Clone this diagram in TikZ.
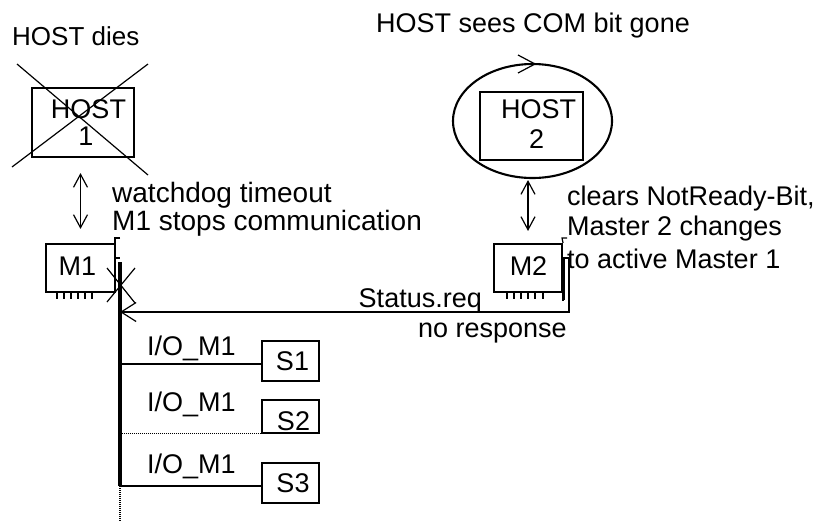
\documentclass[tikz,border=0pt]{standalone}
\usepackage{fontspec}
\setmainfont{Liberation Sans}
\usetikzlibrary{arrows.meta,shapes.geometric}
\begin{document}
\begin{tikzpicture}[x=1pt,y=-1pt,
  box/.style={draw, line width=2.1pt, inner sep=0pt},
  lbl/.style={inner sep=0pt, font=\fontsize{27}{30}\selectfont},
  big/.style={font=\fontsize{28}{31}\selectfont},
  ltxt/.style={lbl, anchor=base west},
  ctxt/.style={lbl, anchor=base},
  thinline/.style={line width=1.2pt},
  dbl/.style={line width=1.2pt, {Straight Barb[length=13pt,width=14pt]}-{Straight Barb[length=13pt,width=14pt]}},
  req/.style={line width=1.2pt, -{Straight Barb[length=15pt,width=19pt]}},
  bus/.style={line width=3.2pt},
  dotline/.style={line width=1.2pt, dash pattern=on 1.2pt off 0.8pt}]

\useasboundingbox (0,0) rectangle (826,523);
\fill[white] (0,0) rectangle (826,523);

% ---------- left side: failed host and master 1 ----------
\node[ltxt, font=\fontsize{26}{30}\selectfont] (dies) at (12,45) {HOST dies};
\node[box, minimum width=102pt, minimum height=69pt] (host1) at (83,122.5) {};
\node[ctxt] (host1a) at (88.5,118) {HOST};
\node[ctxt] (host1b) at (86,145) {1};
% crossed out
\coordinate (xa1) at (17,64);  \coordinate (xa2) at (148,175);
\coordinate (xb1) at (148,64); \coordinate (xb2) at (12,167);
\draw[thinline] (xa1) -- (xa2);
\draw[thinline] (xb1) -- (xb2);

\node[box, minimum width=69pt, minimum height=48pt] (m1) at (80.5,268) {};
\node[ctxt] (m1t) at (77.5,275) {M1};
\foreach \x in {57,64,71,78,85,92} \draw[thinline] (\x,292) -- (\x,299);
\draw[dbl, shorten <=15pt, shorten >=14pt] (m1.north |- host1.south) -- (m1.north);
\node[ltxt, big] (wd1) at (112,202) {watchdog timeout};
\node[ltxt, big] (wd2) at (112,230) {M1 stops communication};

% connector bracket of master 1
\draw[thinline] (120,238) -- (115,238) -- (115,258) -- (120,258);

% ---------- bus with slaves ----------
\coordinate (bustop) at (120,262);
\coordinate (busend) at (120,486);
\coordinate (busfree) at (120,521);
\draw[bus] (bustop) -- (busend);
\draw[dotline, line width=1.6pt] (busend) -- (busfree);
% bus interrupted at master 1
\draw[thinline] (107,268) -- (135,303);
\draw[thinline] (135,268) -- (107,302);

\node[box, line width=1.7pt, minimum width=57pt, minimum height=40pt] (s1) at (290.5,361) {};
\node[box, line width=1.7pt, minimum width=57pt, minimum height=33pt] (s2) at (290.5,416.5) {};
\node[box, line width=1.7pt, minimum width=57pt, minimum height=40pt] (s3) at (290.5,483) {};
\node[ctxt] (s1t) at (292.5,370) {S1};
\node[ctxt] (s2t) at (293.5,430) {S2};
\node[ctxt] (s3t) at (293,492) {S3};
\draw[thinline] (s1.west |- 0,364) -- (bustop |- 0,364);
\draw[dotline] (s2.south west) -- (bustop |- s2.south west);
\draw[thinline] (s3.west |- busend) -- (busend);
\node[ltxt] (io1) at (147,355) {I/O\_M1};
\node[ltxt] (io2) at (147,411) {I/O\_M1};
\node[ltxt] (io3) at (147,473) {I/O\_M1};

% ---------- right side: host 2 and master 2 ----------
\node[ltxt] (sees) at (376,32) {HOST sees COM bit gone};
\node[draw, line width=2.1pt, ellipse, minimum width=159pt, minimum height=114pt, inner sep=0pt] (loop) at (532.5,121) {};
\coordinate (looptip) at (535,64);
\draw[thinline] (518,55) -- (looptip) -- (518,73);
\node[box, minimum width=103pt, minimum height=68pt] (host2) at (531.5,126) {};
\node[ctxt] (host2a) at (538.5,118) {HOST};
\node[ctxt] (host2b) at (536.5,148) {2};

\node[box, minimum width=68pt, minimum height=48pt] (m2) at (528,268) {};
\node[ctxt] (m2t) at (528.5,275) {M2};
\foreach \x in {507,514,521,528,535,543} \draw[thinline] (\x,292) -- (\x,299);
\draw[thinline] (m2.south east) -- ++(0,8);
\draw[dbl, shorten <=1pt, shorten >=12pt] (m2.north |- loop.south) -- (m2.north);

% connector bracket of master 2 and status request
\draw[thinline] (m2.north east) -- (562,238) -- (567,238);
\draw[thinline] (563,258) -- (569,258);
\draw[thinline] (564,258) -- (564,300);
\coordinate (m2port) at (569,258);
\draw[req] (m2port) -- (569,312) -- (bustop |- 0,312);
\node[lbl, anchor=base east] (sreq) at (482,307) {Status.req};
\node[lbl, anchor=base east] (nores) at (567,337) {no response};

\node[ltxt] (cl1) at (567,205) {clears NotReady-Bit,};
\node[ltxt] (cl2) at (567,235) {Master 2 changes};
\node[ltxt] (cl3) at (567,268) {to active Master 1};
\end{tikzpicture}
\end{document}
